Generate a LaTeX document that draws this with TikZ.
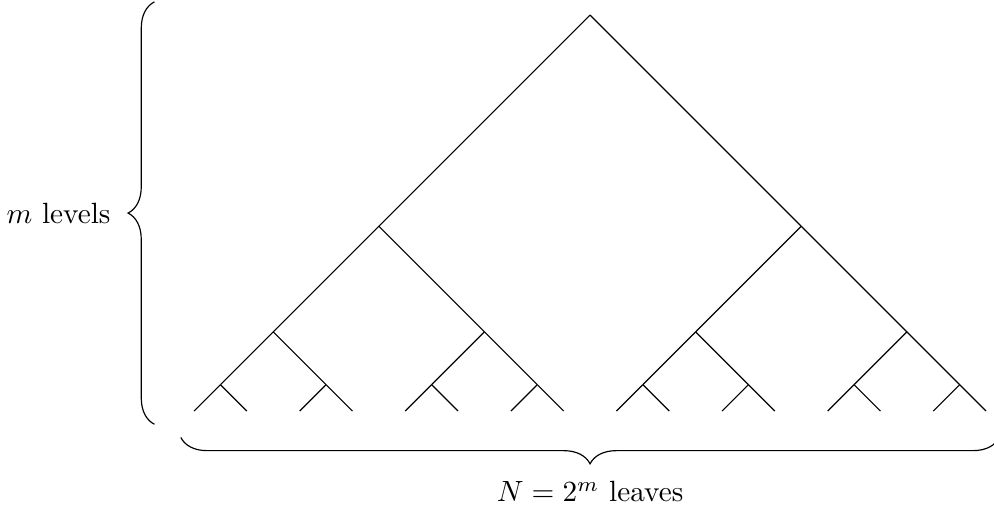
\documentclass[tikz,border=0pt]{standalone}
\usetikzlibrary{decorations.pathreplacing}
\tikzset{
  branch/.style={line width=0.4pt, draw=black},
  bracket/.style={decorate, decoration={brace, amplitude=9pt}, line width=0.4pt},
  lbl/.style={inner sep=3.33pt},
}

\begin{document}
\begin{tikzpicture}[x=0.317cm, y=0.317cm]
  \useasboundingbox (-22.35, 0.57) rectangle (15.30, -18.75);

  % ---------------------------------------------------------------- tree
  \coordinate (n-0-0) at (0, 0);
  \foreach \lev/\prev in {1/0, 2/1, 3/2, 4/3} {
    \pgfmathtruncatemacro{\last}{2^\lev - 1}
    \pgfmathsetmacro{\yy}{-(16 - 2^(4 - \lev))}
    \foreach \k in {0,...,\last} {
      \pgfmathsetmacro{\xx}{(2*\k + 1 - 2^\lev) * 2^(4 - \lev)}
      \pgfmathtruncatemacro{\up}{floor(\k/2)}
      \coordinate (n-\lev-\k) at (\xx, \yy);
      \draw[branch] (n-\prev-\up) -- (n-\lev-\k);
    }
  }

  % ---------------------------------------------------------------- levels
  \coordinate (levelsBot) at (-16.5, -15.5);
  \coordinate (levelsTop) at (-16.5, 0.5);
  \draw[bracket] (levelsBot) -- (levelsTop)
    node[lbl, midway, left=11.5pt] (levels) {$m$ levels};

  % ---------------------------------------------------------------- leaves
  \coordinate (leavesRight) at (15.5, -16);
  \coordinate (leavesLeft) at (-15.5, -16);
  \draw[bracket] (leavesRight) -- (leavesLeft)
    node[lbl, midway, below=11.5pt] (leaves) {$N = 2^m$ leaves};

\end{tikzpicture}
\end{document}
